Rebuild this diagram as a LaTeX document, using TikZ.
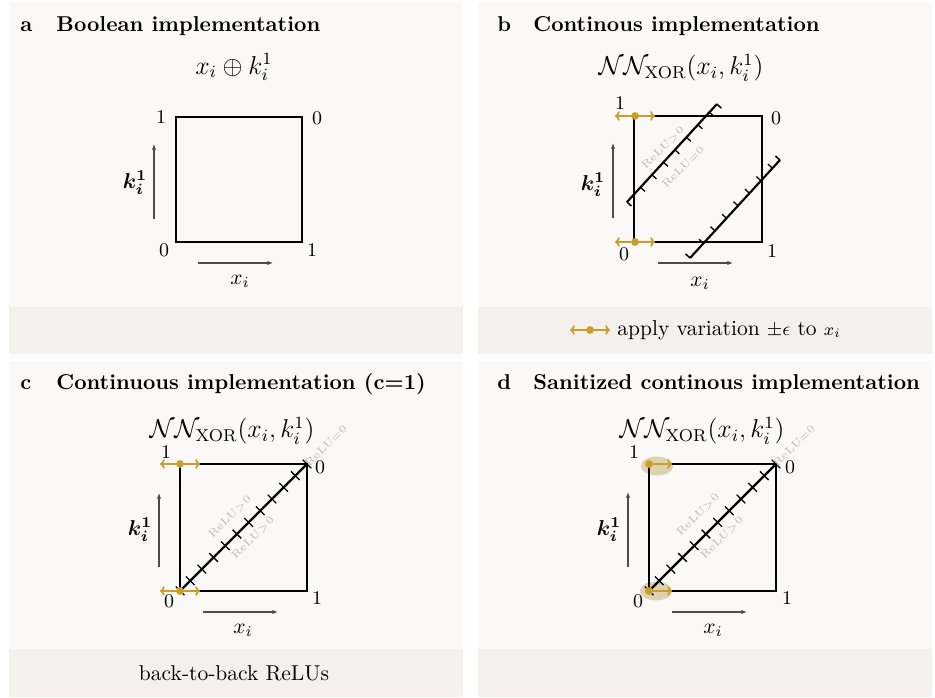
\documentclass[tikz,border=0pt]{standalone}
\usepackage{amsmath,amssymb,bm}
\usepackage{tikz}
\usetikzlibrary{positioning,arrows.meta,calc,decorations.markings,shapes.geometric}
\definecolor{panelback}{RGB}{250,249,247}
\definecolor{panelband}{RGB}{244,241,236}
\definecolor{varygold}{RGB}{203,158,42}
\definecolor{haloclr}{RGB}{222,210,176}
\tikzset{
  panelbg/.style={fill=panelback, draw=none},
  panelfoot/.style={fill=panelband, draw=none},
  paneltag/.style={font=\bfseries, anchor=base west, inner sep=0pt},
  figformula/.style={font=\large, inner sep=1pt},
  cornerlbl/.style={font=\small, inner sep=1pt},
  axislbl/.style={inner sep=1pt},
  unitsq/.style={draw, line width=1pt},
  axisarrow/.style={-{Latex[length=2.6pt,width=2pt]}, line width=0.5pt, black!70},
  varyarrow/.style={{To[length=2.2pt,width=4.5pt]}-{To[length=2.2pt,width=4.5pt]}, line width=0.8pt, varygold},
  varyright/.style={-{To[length=2.2pt,width=4.5pt]}, line width=0.8pt, varygold},
  varydot/.style={circle, fill=varygold, inner sep=0pt, minimum size=3.6pt},
  halo/.style={ellipse, fill=haloclr, inner sep=0pt, minimum width=15pt, minimum height=8.8pt},
  relutag/.style={font=\fontsize{5}{6}\selectfont, text=black!27, rotate=45, inner sep=0pt},
  reluwall/.style={line width=1pt, postaction={decorate, decoration={markings,
    mark=at position 0 with {\draw[line width=0.7pt] (0,0) -- (0,#1);},
    mark=between positions 0.15 and 0.93 step 7.9pt with {\draw[line width=0.6pt] (0,0) -- (0,#1);},
    mark=at position 1 with {\draw[line width=0.7pt] (0,0) -- (0,#1);}}}},
  relupair/.style={line width=1pt, postaction={decorate, decoration={markings,
    mark=between positions 0 and 0.95 step 7.68pt with {\draw[line width=0.6pt] (0,-2.8pt) -- (0,2.8pt);},
    mark=at position 1 with {\draw[line width=0.6pt] (0,-2.8pt) -- (0,2.8pt);}}}},
}

\begin{document}
\begin{tikzpicture}[x=0.465pt, y=-0.465pt]
  \useasboundingbox (0,0) rectangle (935,698);
  % panel backgrounds
  \fill[panelbg] (9,3) rectangle (463,307);
  \fill[panelfoot] (9,307) rectangle (463,354);
  \fill[panelbg] (478,3) rectangle (932,307);
  \fill[panelfoot] (478,307) rectangle (932,354);
  \fill[panelbg] (9,361) rectangle (463,649);
  \fill[panelfoot] (9,649) rectangle (463,697);
  \fill[panelbg] (478,361) rectangle (932,649);
  \fill[panelfoot] (478,649) rectangle (932,697);

  % a: boolean
  \node[paneltag] (taga) at (20,32) {a};
  \node[paneltag] (titlea) at (56,32) {Boolean implementation};
  \node[figformula] (fa) at (234,67) {$x_i \oplus k_i^1$};
  \coordinate (a00) at (176,242); \coordinate (a11) at (302,117);
  \draw[unitsq] (a00) rectangle (a11);
  \node[cornerlbl] (a1tl) at (161,117) {1};
  \node[cornerlbl] (a0tr) at (317,118) {0};
  \node[cornerlbl] (a0bl) at (164,250) {0};
  \node[cornerlbl] (a1br) at (312,250) {1};
  \coordinate (aks) at (154,219); \coordinate (ake) at (154,144);
  \draw[axisarrow] (aks) -- (ake);
  \node[axislbl] (akl) at (135,183) {$\bm{k_i^1}$};
  \coordinate (axs) at (198,263); \coordinate (axe) at (273,263);
  \draw[axisarrow] (axs) -- (axe);
  \node[axislbl] (axl) at (240,281) {$x_i$};

  % b: continous
  \node[paneltag] (tagb) at (497,32) {b};
  \node[paneltag] (titleb) at (533,32) {Continous implementation};
  \node[figformula] (fb) at (681,68) {$\mathcal{N}\mathcal{N}_{\text{XOR}}(x_i, k_i^1)$};
  \coordinate (b00) at (634,242); \coordinate (b11) at (762,116);
  \draw[unitsq] (b00) rectangle (b11);
  \node[cornerlbl] (b1tl) at (620,103) {1};
  \node[cornerlbl] (b0tr) at (776,118) {0};
  \node[cornerlbl] (b0bl) at (624,254) {0};
  \node[cornerlbl] (b1br) at (772,251) {1};
  \coordinate (bks) at (613,218); \coordinate (bke) at (613,143);
  \draw[axisarrow] (bks) -- (bke);
  \node[axislbl] (bkl) at (593,185) {$\bm{k_i^1}$};
  \coordinate (bxs) at (658,263); \coordinate (bxe) at (733,263);
  \draw[axisarrow] (bxs) -- (bxe);
  \node[axislbl] (bxl) at (700,283) {$x_i$};
  \coordinate (bwa1) at (627,202); \coordinate (bwb1) at (717,104);
  \draw[reluwall=-2.8pt] (bwa1) -- (bwb1);
  \coordinate (bwa2) at (690,258); \coordinate (bwb2) at (780,160);
  \draw[reluwall=2.8pt] (bwa2) -- (bwb2);
  \node[relutag] (bpos) at (663,148) {ReLU$>$0};
  \node[relutag] (bzero) at (683,167) {ReLU$=$0};
  \coordinate (bvl1) at (615,116); \coordinate (bvr1) at (655,116);
  \draw[varyarrow] (bvl1) -- node[varydot] (bdot1) {} (bvr1);
  \coordinate (bvl0) at (615,242); \coordinate (bvr0) at (655,242);
  \draw[varyarrow] (bvl0) -- node[varydot] (bdot0) {} (bvr0);
  % b: legend
  \coordinate (lgl) at (570,330); \coordinate (lgr) at (610,330);
  \draw[varyarrow] (lgl) -- node[varydot] (lgdot) {} (lgr);
  \node[anchor=west, inner sep=0pt] (lgtext) at (617,330) {apply variation {\small$\pm\epsilon$} to {\footnotesize$x_i$}};

  % c: continuous c=1
  \node[paneltag] (tagc) at (20,390) {c};
  \node[paneltag] (titlec) at (56,390) {Continuous implementation (c=1)};
  \node[figformula] (fc) at (232,431) {$\mathcal{N}\mathcal{N}_{\text{XOR}}(x_i, k_i^1)$};
  \coordinate (c00) at (180,591); \coordinate (c11) at (307,464);
  \draw[unitsq] (c00) rectangle (c11);
  \node[cornerlbl] (c1tl) at (166,452) {1};
  \node[cornerlbl] (c0tr) at (320,467) {0};
  \node[cornerlbl] (c0bl) at (169,601) {0};
  \node[cornerlbl] (c1br) at (317,598) {1};
  \coordinate (cks) at (159,567); \coordinate (cke) at (159,493);
  \draw[axisarrow] (cks) -- (cke);
  \node[axislbl] (ckl) at (140,530) {$\bm{k_i^1}$};
  \coordinate (cxs) at (203,612); \coordinate (cxe) at (278,612);
  \draw[axisarrow] (cxs) -- (cxe);
  \node[axislbl] (cxl) at (243,630) {$x_i$};
  \draw[relupair] (c11) -- (c00);
  \node[relutag] (cpos1) at (230,517) {ReLU$>$0};
  \node[relutag] (cpos2) at (253,538) {ReLU$>$0};
  \node[relutag] (czero) at (326,446) {ReLU$=$0};
  \coordinate (cvl1) at (160,464); \coordinate (cvr1) at (200,464);
  \draw[varyarrow] (cvl1) -- node[varydot] (cdot1) {} (cvr1);
  \coordinate (cvl0) at (160,591); \coordinate (cvr0) at (200,591);
  \draw[varyarrow] (cvl0) -- node[varydot] (cdot0) {} (cvr0);
  \node (capc) at (234,673) {back-to-back ReLUs};

  % d: sanitized
  \node[paneltag] (tagd) at (497,390) {d};
  \node[paneltag] (titled) at (533,390) {Sanitized continous implementation};
  \node[figformula] (fd) at (702,431) {$\mathcal{N}\mathcal{N}_{\text{XOR}}(x_i, k_i^1)$};
  \node[halo] (dhalo1) at (657,466) {};
  \node[halo] (dhalo0) at (656,591) {};
  \coordinate (d00) at (649,591); \coordinate (d11) at (776,464);
  \draw[unitsq] (d00) rectangle (d11);
  \node[cornerlbl] (d1tl) at (634,452) {1};
  \node[cornerlbl] (d0tr) at (790,467) {0};
  \node[cornerlbl] (d0bl) at (638,601) {0};
  \node[cornerlbl] (d1br) at (787,598) {1};
  \coordinate (dks) at (628,567); \coordinate (dke) at (628,492);
  \draw[axisarrow] (dks) -- (dke);
  \node[axislbl] (dkl) at (609,530) {$\bm{k_i^1}$};
  \coordinate (dxs) at (672,612); \coordinate (dxe) at (747,612);
  \draw[axisarrow] (dxs) -- (dxe);
  \node[axislbl] (dxl) at (713,630) {$x_i$};
  \draw[relupair] (d11) -- (d00);
  \node[relutag] (dpos1) at (698,515) {ReLU$>$0};
  \node[relutag] (dpos2) at (722,538) {ReLU$>$0};
  \node[relutag] (dzero) at (794,446) {ReLU$=$0};
  \node[varydot] (ddot1) at (649,464) {};
  \coordinate (dvr1) at (672,464);
  \draw[varyright] (ddot1.center) -- (dvr1);
  \node[varydot] (ddot0) at (649,591) {};
  \coordinate (dvr0) at (672,591);
  \draw[varyright] (ddot0.center) -- (dvr0);
\end{tikzpicture}
\end{document}
